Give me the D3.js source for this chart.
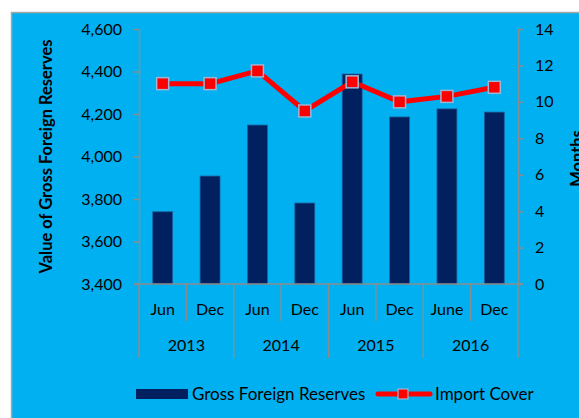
<!DOCTYPE html>
<html>
<head>
<meta charset="utf-8">
<script src="https://cdn.jsdelivr.net/npm/d3@7"></script>
<style>
  body { margin: 0; background: #fff; }
  svg { display: block; font-family: Lato, "Open Sans", sans-serif; }
</style>
</head>
<body>
<div id="chart"></div>
<script>
// data
var periods = ["Jun", "Dec", "Jun", "Dec", "Jun", "Dec", "June", "Dec"];
var years = ["2013", "2014", "2015", "2016"];
var reserves = [3740, 3908, 4148, 3781, 4388, 4186, 4224, 4209];
var importCover = [11.0, 11.0, 11.7, 9.5, 11.1, 10.0, 10.3, 10.8];
var leftTicks = [3400, 3600, 3800, 4000, 4200, 4400, 4600];
var rightTicks = [0, 2, 4, 6, 8, 10, 12, 14];
var seriesNames = ["Gross Foreign Reserves", "Import Cover"];

var W = 579, H = 418;
var plot = {left: 139, right: 518, top: 29, bottom: 284};
var grey = "#8c8c8c";
var fs = 16;

var svg = d3.select("#chart").append("svg")
    .attr("width", W)
    .attr("height", H);

// chart area
svg.append("rect")
    .attr("x", 11.5).attr("y", 12.5)
    .attr("width", W).attr("height", H)
    .attr("fill", "#00b0f0")
    .attr("stroke", "#a6a6a6")
    .attr("stroke-width", 1.5);

var idx = d3.range(periods.length);

var x = d3.scaleBand()
    .domain(idx)
    .range([plot.left, plot.right]);

var yL = d3.scaleLinear()
    .domain([3400, 4600])
    .range([plot.bottom, plot.top]);

var yR = d3.scaleLinear()
    .domain([0, 14])
    .range([plot.bottom, plot.top]);

// bars
var barW = x.bandwidth() * 0.42;
svg.append("g")
    .selectAll("rect")
    .data(reserves)
    .join("rect")
    .attr("x", function(d, i) { return x(i) + (x.bandwidth() - barW) / 2; })
    .attr("y", function(d) { return yL(d); })
    .attr("width", barW)
    .attr("height", function(d) { return yL(3400) - yL(d); })
    .attr("fill", "#002060")
    .attr("stroke", "#1f5f99")
    .attr("stroke-width", 0.8);

// axes
function styleAxis(g) {
    g.select(".domain").attr("stroke", grey).attr("stroke-width", 1.5);
    g.selectAll(".tick line").attr("stroke", grey).attr("stroke-width", 1.5);
    g.selectAll("text").attr("fill", "#000").attr("font-size", fs);
}

svg.append("g")
    .attr("transform", "translate(" + plot.left + ",0)")
    .call(d3.axisLeft(yL).tickValues(leftTicks).tickFormat(d3.format(",")).tickSize(5).tickPadding(12).tickSizeOuter(0))
    .call(styleAxis)
    .attr("font-family", null);

svg.append("g")
    .attr("transform", "translate(" + plot.right + ",0)")
    .call(d3.axisRight(yR).tickValues(rightTicks).tickSize(5).tickPadding(12).tickSizeOuter(0))
    .call(styleAxis)
    .attr("font-family", null);

// category axis (two levels)
var xa = svg.append("g");
xa.append("line")
    .attr("x1", plot.left - 5).attr("x2", plot.right + 5)
    .attr("y1", plot.bottom).attr("y2", plot.bottom)
    .attr("stroke", grey).attr("stroke-width", 1.5);

var bounds = d3.range(periods.length + 1);
xa.selectAll(".sep")
    .data(bounds)
    .join("line")
    .attr("x1", function(b) { return b < periods.length ? x(b) : x(b - 1) + x.bandwidth(); })
    .attr("x2", function(b) { return b < periods.length ? x(b) : x(b - 1) + x.bandwidth(); })
    .attr("y1", plot.bottom)
    .attr("y2", function(b) { return b % 2 === 0 ? 358 : 321; })
    .attr("stroke", grey).attr("stroke-width", 1.5);

xa.selectAll(".per")
    .data(periods)
    .join("text")
    .attr("x", function(d, i) { return x(i) + x.bandwidth() / 2; })
    .attr("y", 315)
    .attr("text-anchor", "middle")
    .attr("font-size", fs)
    .text(function(d) { return d; });

xa.selectAll(".yr")
    .data(years)
    .join("text")
    .attr("x", function(d, i) { return x(i * 2) + x.bandwidth(); })
    .attr("y", 351)
    .attr("text-anchor", "middle")
    .attr("font-size", fs)
    .text(function(d) { return d; });

// import cover line
var line = d3.line()
    .x(function(d, i) { return x(i) + x.bandwidth() / 2; })
    .y(function(d) { return yR(d); });

svg.append("path")
    .datum(importCover)
    .attr("d", line)
    .attr("fill", "none")
    .attr("stroke", "#ff0000")
    .attr("stroke-width", 5);

var mk = 12;
svg.append("g")
    .selectAll("rect")
    .data(importCover)
    .join("rect")
    .attr("x", function(d, i) { return x(i) + x.bandwidth() / 2 - mk / 2; })
    .attr("y", function(d) { return yR(d) - mk / 2; })
    .attr("width", mk).attr("height", mk)
    .attr("fill", "#ff0000")
    .attr("stroke", "#9db5d6")
    .attr("stroke-width", 1.5);

// axis titles
svg.append("text")
    .attr("transform", "translate(52," + (plot.top + plot.bottom) / 2 + ") rotate(-90)")
    .attr("text-anchor", "middle")
    .attr("font-size", 16.5)
    .attr("font-weight", "bold")
    .text("Value of Gross Foreign Reserves");

svg.append("text")
    .attr("transform", "translate(583," + ((plot.top + plot.bottom) / 2 + 2) + ") rotate(-90)")
    .attr("text-anchor", "middle")
    .attr("font-size", 16.5)
    .attr("font-weight", "bold")
    .text("Months");

// legend
var lg = svg.append("g");
lg.append("rect")
    .attr("x", 136).attr("y", 389)
    .attr("width", 52).attr("height", 10)
    .attr("fill", "#002060");
lg.append("text")
    .attr("x", 192).attr("y", 400)
    .attr("font-size", 17)
    .text(seriesNames[0]);
lg.append("line")
    .attr("x1", 378).attr("x2", 430)
    .attr("y1", 394).attr("y2", 394)
    .attr("stroke", "#ff0000").attr("stroke-width", 5)
    .attr("stroke-linecap", "round");
lg.append("rect")
    .attr("x", 398).attr("y", 389)
    .attr("width", 10).attr("height", 10)
    .attr("fill", "#ff0000")
    .attr("stroke", "#9db5d6").attr("stroke-width", 1.2);
lg.append("text")
    .attr("x", 435).attr("y", 400)
    .attr("font-size", 17)
    .text(seriesNames[1]);
</script>
</body>
</html>
